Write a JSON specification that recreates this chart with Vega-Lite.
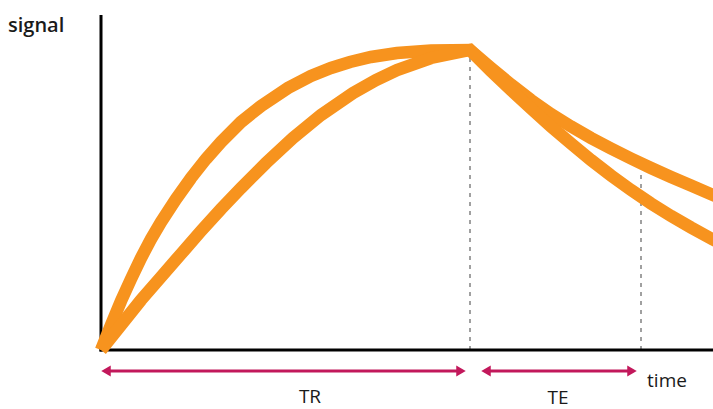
{
  "$schema": "https://vega.github.io/schema/vega-lite/v6.json",
  "autosize": {"type": "none"},
  "width": 713,
  "height": 409,
  "padding": 0,
  "background": "white",
  "config": {"view": {"stroke": null}},
  "datasets": {
    "curves": [
      {"t": 0, "s": 0, "series": "A"},
      {"t": 10, "s": 25, "series": "A"},
      {"t": 20, "s": 49, "series": "A"},
      {"t": 30, "s": 71, "series": "A"},
      {"t": 40, "s": 92, "series": "A"},
      {"t": 50, "s": 111, "series": "A"},
      {"t": 60, "s": 128, "series": "A"},
      {"t": 75, "s": 151, "series": "A"},
      {"t": 90, "s": 172, "series": "A"},
      {"t": 105, "s": 191, "series": "A"},
      {"t": 120, "s": 208, "series": "A"},
      {"t": 140, "s": 228, "series": "A"},
      {"t": 160, "s": 244, "series": "A"},
      {"t": 187, "s": 262, "series": "A"},
      {"t": 210, "s": 274, "series": "A"},
      {"t": 230, "s": 282, "series": "A"},
      {"t": 249, "s": 288, "series": "A"},
      {"t": 270, "s": 293, "series": "A"},
      {"t": 296, "s": 297, "series": "A"},
      {"t": 330, "s": 299.5, "series": "A"},
      {"t": 369, "s": 300, "series": "A"},
      {"t": 390, "s": 282, "series": "A"},
      {"t": 410, "s": 265.5, "series": "A"},
      {"t": 430, "s": 250, "series": "A"},
      {"t": 450, "s": 236, "series": "A"},
      {"t": 470, "s": 223.5, "series": "A"},
      {"t": 490, "s": 212, "series": "A"},
      {"t": 510, "s": 201.5, "series": "A"},
      {"t": 530, "s": 191.5, "series": "A"},
      {"t": 550, "s": 182, "series": "A"},
      {"t": 570, "s": 173, "series": "A"},
      {"t": 590, "s": 164.5, "series": "A"},
      {"t": 612, "s": 155, "series": "A"},
      {"t": 620, "s": 151.5, "series": "A"},
      {"t": 0, "s": 0, "series": "B"},
      {"t": 20, "s": 25, "series": "B"},
      {"t": 40, "s": 50, "series": "B"},
      {"t": 60, "s": 73, "series": "B"},
      {"t": 80, "s": 96, "series": "B"},
      {"t": 100, "s": 119, "series": "B"},
      {"t": 120, "s": 141, "series": "B"},
      {"t": 140, "s": 162, "series": "B"},
      {"t": 165, "s": 187, "series": "B"},
      {"t": 192, "s": 212, "series": "B"},
      {"t": 220, "s": 235, "series": "B"},
      {"t": 252, "s": 257, "series": "B"},
      {"t": 275, "s": 270, "series": "B"},
      {"t": 296, "s": 280, "series": "B"},
      {"t": 330, "s": 292, "series": "B"},
      {"t": 369, "s": 300, "series": "B"},
      {"t": 390, "s": 279, "series": "B"},
      {"t": 410, "s": 260, "series": "B"},
      {"t": 430, "s": 241.5, "series": "B"},
      {"t": 450, "s": 223.5, "series": "B"},
      {"t": 470, "s": 206.5, "series": "B"},
      {"t": 490, "s": 190, "series": "B"},
      {"t": 510, "s": 174.5, "series": "B"},
      {"t": 530, "s": 160, "series": "B"},
      {"t": 550, "s": 146.5, "series": "B"},
      {"t": 570, "s": 134, "series": "B"},
      {"t": 590, "s": 122.5, "series": "B"},
      {"t": 612, "s": 110.5, "series": "B"},
      {"t": 620, "s": 106.3, "series": "B"}
    ],
    "dashes": [
      {"t": 369, "s": 0, "s2": 295},
      {"t": 540, "s": 0, "s2": 176}
    ],
    "axes": [
      {"t": 0, "t2": 0, "s": -1.5, "s2": 335},
      {"t": -1.5, "t2": 612, "s": 0, "s2": 0}
    ],
    "arrows": [
      {"t": 5, "t2": 359, "s": -21, "name": "TR"},
      {"t": 385, "t2": 530, "s": -21, "name": "TE"}
    ],
    "heads": [
      {"t": 5, "s": -21, "shape": "left"},
      {"t": 360, "s": -21, "shape": "right"},
      {"t": 385, "s": -21, "shape": "left"},
      {"t": 531, "s": -21, "shape": "right"}
    ],
    "labels": [
      {"t": 209, "s": -53, "text": "TR", "align": "center"},
      {"t": 457, "s": -54, "text": "TE", "align": "center"},
      {"t": 566, "s": -37, "text": "time", "align": "left"}
    ],
    "ylabel": [
      {"t": -93, "s": 318, "text": "signal"}
    ]
  },
  "layer": [
    {
      "data": {"name": "dashes"},
      "mark": {"type": "rule", "color": "#a0a0a0", "strokeWidth": 2, "strokeDash": [4, 5]},
      "encoding": {
        "x": {"field": "t", "type": "quantitative", "scale": {"domain": [-101, 612], "nice": false, "zero": false}, "axis": null},
        "y": {"field": "s", "type": "quantitative", "scale": {"domain": [-59, 350], "nice": false, "zero": false}, "axis": null},
        "y2": {"field": "s2"}
      }
    },
    {
      "data": {"name": "axes"},
      "mark": {"type": "rule", "color": "#000000", "strokeWidth": 3},
      "encoding": {
        "x": {"field": "t", "type": "quantitative"},
        "x2": {"field": "t2"},
        "y": {"field": "s", "type": "quantitative"},
        "y2": {"field": "s2"}
      }
    },
    {
      "data": {"name": "curves"},
      "mark": {"type": "line", "color": "#f7931e", "strokeWidth": 12.5, "strokeJoin": "miter", "strokeCap": "butt", "clip": true},
      "encoding": {
        "x": {"field": "t", "type": "quantitative"},
        "y": {"field": "s", "type": "quantitative"},
        "detail": {"field": "series"},
        "order": {"field": "t", "type": "quantitative"}
      }
    },
    {
      "data": {"name": "arrows"},
      "mark": {"type": "rule", "color": "#c2185b", "strokeWidth": 3},
      "encoding": {
        "x": {"field": "t", "type": "quantitative"},
        "x2": {"field": "t2"},
        "y": {"field": "s", "type": "quantitative"}
      }
    },
    {
      "data": {"name": "heads"},
      "mark": {"type": "point", "filled": true, "color": "#c2185b", "opacity": 1, "size": 120},
      "encoding": {
        "x": {"field": "t", "type": "quantitative"},
        "y": {"field": "s", "type": "quantitative"},
        "shape": {"field": "shape", "type": "nominal", "scale": {"domain": ["left", "right"], "range": ["triangle-left", "triangle-right"]}, "legend": null}
      }
    },
    {
      "data": {"name": "labels"},
      "mark": {"type": "text", "font": "Open Sans", "fontSize": 19, "color": "#1a1a1a", "baseline": "alphabetic"},
      "encoding": {
        "x": {"field": "t", "type": "quantitative"},
        "y": {"field": "s", "type": "quantitative"},
        "text": {"field": "text"},
        "align": {"field": "align", "type": "nominal", "scale": null}
      }
    },
    {
      "data": {"name": "ylabel"},
      "mark": {"type": "text", "font": "Open Sans", "fontWeight": 600, "fontSize": 20, "color": "#1a1a1a", "baseline": "alphabetic", "align": "left"},
      "encoding": {
        "x": {"field": "t", "type": "quantitative"},
        "y": {"field": "s", "type": "quantitative"},
        "text": {"field": "text"}
      }
    }
  ]
}
